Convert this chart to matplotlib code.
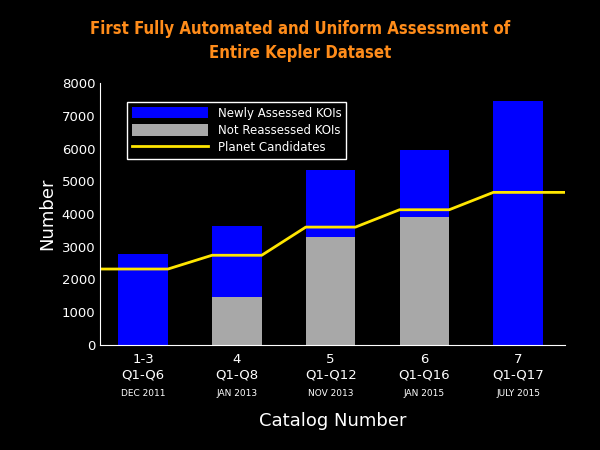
import matplotlib
matplotlib.use("Agg")
import matplotlib.pyplot as plt
import numpy as np

catalogs = ["1-3", "4", "5", "6", "7"]
quarters = ["Q1-Q6", "Q1-Q8", "Q1-Q12", "Q1-Q16", "Q1-Q17"]
dates = ["DEC 2011", "JAN 2013", "NOV 2013", "JAN 2015", "JULY 2015"]
total_kois = [2780, 3630, 5330, 5960, 7440]
not_reassessed = [0, 1460, 3300, 3920, 0]
planet_candidates = [2320, 2740, 3600, 4130, 4660]

fig = plt.figure(figsize=(6, 4.5), dpi=100, facecolor="black")
ax = fig.add_axes([100/600, 1-345/450, 465/600, 262/450], facecolor="black")
x = np.arange(len(catalogs))
w = 0.53
newly = [t - n for t, n in zip(total_kois, not_reassessed)]
ax.bar(x, not_reassessed, w, color="#a8a8a8", label="Not Reassessed KOIs")
ax.bar(x, newly, w, bottom=not_reassessed, color="#0000ff", label="Newly Assessed KOIs")
xlim = (-0.46, 4.5)
lx, ly = [], []
for i, v in enumerate(planet_candidates):
    lx += [xlim[0] if i == 0 else i - w/2, xlim[1] if i == len(x)-1 else i + w/2]
    ly += [v, v]
ax.plot(lx, ly, color="#ffe600", lw=2, label="Planet Candidates")
ax.set_xlim(*xlim)
ax.set_ylim(0, 8000)
ax.set_yticks(range(0, 8001, 1000))
ax.set_xticks(x)
ax.set_xticklabels([f"{c}\n{q}" for c, q in zip(catalogs, quarters)], color="white", fontsize=9.5)
for i, d in enumerate(dates):
    ax.text(i, -1350, d, color="white", fontsize=6.5, ha="center", va="top")
ax.tick_params(colors="white", labelsize=9.5, length=0)
ax.tick_params(axis="x", pad=6)
for s in ax.spines.values():
    s.set_visible(False)
ax.spines["left"].set_visible(True); ax.spines["left"].set_color("white")
ax.spines["bottom"].set_visible(True); ax.spines["bottom"].set_color("white")
ax.set_ylabel("Number", color="white", fontsize=13)
ax.set_xlabel("Catalog Number", color="white", fontsize=13, labelpad=22)
h, l = ax.get_legend_handles_labels()
lab = {"Newly Assessed KOIs": 0, "Not Reassessed KOIs": 1, "Planet Candidates": 2}
pairs = sorted(zip(h, l), key=lambda p: lab[p[1]])
leg = ax.legend([p[0] for p in pairs], [p[1] for p in pairs], loc="upper left",
                bbox_to_anchor=(0.045, 0.95), facecolor="black", edgecolor="white",
                labelcolor="white", fontsize=8.5, fancybox=False, handlelength=6.5,
                handleheight=1.1, labelspacing=0.35, framealpha=1)
fig.text(0.5, 0.955, "First Fully Automated and Uniform Assessment of\nEntire Kepler Dataset",
         color="#ff8c1a", fontsize=12, fontweight="bold", ha="center", va="top",
         fontstretch="condensed", linespacing=1.4)
fig.savefig("out.png", dpi=100, facecolor="black")
